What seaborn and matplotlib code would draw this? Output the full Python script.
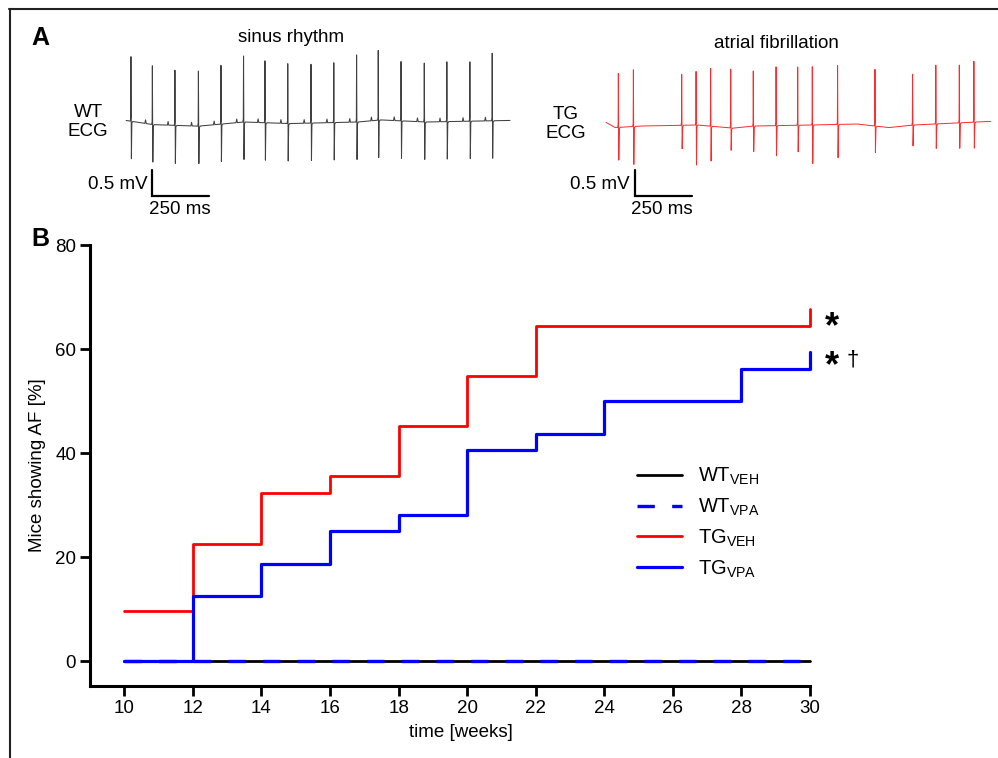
import numpy as np
import pandas as pd
import matplotlib
matplotlib.use("Agg")
import matplotlib.pyplot as plt
from matplotlib.lines import Line2D
import seaborn as sns

# ---------------- data ----------------
# Panel B: cumulative incidence of AF (%)
weeks_wt = [10, 30]
af_wt_veh = [0.0, 0.0]
af_wt_vpa = [0.0, 0.0]
weeks_tg_veh = [10, 12, 14, 16, 18, 20, 22, 30]
af_tg_veh = [9.7, 22.6, 32.3, 35.5, 45.2, 54.8, 64.5, 67.7]
weeks_tg_vpa = [10, 12, 14, 16, 18, 20, 22, 24, 28, 30]
af_tg_vpa = [0.0, 12.5, 18.75, 25.0, 28.1, 40.6, 43.75, 50.0, 56.25, 59.4]
x_ticks = [10, 12, 14, 16, 18, 20, 22, 24, 26, 28, 30]
y_ticks = [0, 20, 40, 60, 80]

# Panel A: ECG traces (beat times in ms, R / S amplitudes in mV, baseline knots)
sinus_beat_ms = [4, 98, 197, 300, 399, 498, 592, 692, 794, 894, 994, 1089, 1189, 1291, 1390, 1491, 1589]
sinus_r_mv = [1.24, 1.13, 1.06, 1.06, 1.13, 1.27, 1.19, 1.15, 1.13, 1.15, 1.29, 1.34, 1.14, 1.13, 1.15, 1.14, 1.30]
sinus_s_mv = [-0.72, -0.72, -0.73, -0.72, -0.72, -0.72, -0.72, -0.72, -0.72, -0.72, -0.72, -0.72, -0.72, -0.72, -0.72, -0.72, -0.72]
sinus_base_ms = [-17, 100, 300, 500, 700, 1000, 1100, 1300, 1667]
sinus_base_mv = [0.03, -0.05, -0.08, 0.0, -0.03, 0.0, 0.04, 0.0, 0.03]
sinus_p_mv = 0.07

af_beat_ms = [54, 120, 332, 395, 459, 547, 646, 746, 841, 905, 1016, 1180, 1345, 1447, 1550, 1614]
af_r_mv = [1.04, 1.09, 0.98, 1.03, 1.11, 1.13, 1.06, 1.13, 1.12, 1.12, 1.13, 1.09, 0.98, 1.13, 1.11, 1.17]
af_s_mv = [-0.63, -0.73, -0.45, -0.77, -0.67, -0.43, -0.49, -0.58, -0.51, -0.74, -0.64, -0.51, -0.40, -0.47, -0.49, -0.50]
af_base_ms = [0, 40, 150, 400, 557, 650, 900, 1100, 1240, 1350, 1687]
af_base_mv = [0.05, -0.05, -0.02, 0.0, -0.06, -0.02, 0.0, 0.02, -0.05, 0.0, 0.07]

# ---------------- style ----------------
sns.set_style("ticks")
plt.rcParams["font.family"] = ["Liberation Sans", "DejaVu Sans"]
plt.rcParams["mathtext.fontset"] = "custom"
plt.rcParams["mathtext.rm"] = "Liberation Sans"
plt.rcParams["mathtext.default"] = "regular"
plt.rcParams["text.color"] = "black"
plt.rcParams["axes.labelcolor"] = "black"

W, H = 998, 758
fig = plt.figure(figsize=(W / 100, H / 100), dpi=100)


def px_axes(l, t, r, b):
    return fig.add_axes([l / W, 1 - b / H, (r - l) / W, (b - t) / H])


def ecg_trace(beats, r, s, base_t, base_v, p_amp):
    t = np.arange(base_t[0], base_t[-1] + 0.25, 0.5)
    v = np.interp(t, base_t, base_v)
    for tb, rv, sv in zip(beats, r, s):
        offs = np.array([-33, -30, -27, -3, -1, 0, 2, 4, 8])
        vals = np.array([0, p_amp, 0, 0, 0.06, rv, sv, -0.03, 0])
        v = v + np.interp(t, tb + offs, vals, left=0, right=0)
    return t, v


FS = 13.5

# ----- Panel A: sinus rhythm -----
axs = px_axes(120, 40, 515, 225)
t1, v1 = ecg_trace(sinus_beat_ms, sinus_r_mv, sinus_s_mv, sinus_base_ms, sinus_base_mv, sinus_p_mv)
sns.lineplot(x=t1, y=v1, ax=axs, estimator=None, sort=False, color="#404040", lw=0.75)
axs.set_xlim(-44, 1689)
axs.set_ylim((122 - 225) / 52, (122 - 40) / 52)
axs.axis("off")
axs.plot([98, 98, 348], [-0.917, -1.417, -1.417], color="black", lw=1.6, clip_on=False,
         solid_joinstyle="miter")
axs.text(76, -1.2, "0.5 mV", ha="right", va="center", fontsize=FS)
axs.text(219, -1.68, "250 ms", ha="center", va="center", fontsize=FS)

# ----- Panel A: atrial fibrillation -----
axa = px_axes(596, 40, 996, 225)
t2, v2 = ecg_trace(af_beat_ms, af_r_mv, af_s_mv, af_base_ms, af_base_mv, 0.0)
sns.lineplot(x=t2, y=v2, ax=axa, estimator=None, sort=False, color="#ff2a2a", lw=0.7)
axa.set_xlim(-44, 1711)
axa.set_ylim((125 - 225) / 52, (125 - 40) / 52)
axa.axis("off")
axa.plot([127, 127, 377], [-0.86, -1.36, -1.36], color="black", lw=1.6, clip_on=False,
         solid_joinstyle="miter")
axa.text(105, -1.14, "0.5 mV", ha="right", va="center", fontsize=FS)
axa.text(246, -1.63, "250 ms", ha="center", va="center", fontsize=FS)

fig.text(291 / W, 1 - 37 / H, "sinus rhythm", ha="center", va="center", fontsize=FS)
fig.text(776 / W, 1 - 43 / H, "atrial fibrillation", ha="center", va="center", fontsize=FS)
fig.text(88 / W, 1 - 122 / H, "WT\nECG", ha="center", va="center", fontsize=FS,
         multialignment="center", linespacing=1.15)
fig.text(566 / W, 1 - 124 / H, "TG\nECG", ha="center", va="center", fontsize=FS,
         multialignment="center", linespacing=1.15)
fig.text(40 / W, 1 - 38 / H, "A", ha="center", va="center", fontsize=18, fontweight="bold")
fig.text(40 / W, 1 - 239 / H, "B", ha="center", va="center", fontsize=18, fontweight="bold")

# ----- Panel B -----
ax = px_axes(90, 245, 810, 686)
sns.lineplot(x=weeks_wt, y=af_wt_veh, ax=ax, color="black", lw=2.0,
             drawstyle="steps-post", label=r"WT$_{VEH}$", clip_on=False)
sns.lineplot(x=weeks_wt, y=af_wt_vpa, ax=ax, color="#0000ff", lw=2.4,
             drawstyle="steps-post", linestyle=(0, (5.2, 5.2)), label=r"WT$_{VPA}$",
             clip_on=False)
sns.lineplot(x=weeks_tg_veh, y=af_tg_veh, ax=ax, color="#ff0000", lw=2.0,
             drawstyle="steps-post", label=r"TG$_{VEH}$", clip_on=False)
sns.lineplot(x=weeks_tg_vpa, y=af_tg_vpa, ax=ax, color="#0000ff", lw=2.3,
             drawstyle="steps-post", label=r"TG$_{VPA}$", clip_on=False)

ax.set_xlim(9.0, 30)
ax.set_ylim(-4.8, 80)
ax.set_xticks(x_ticks)
ax.set_yticks(y_ticks)
ax.tick_params(axis="both", direction="out", length=7, width=2, labelsize=FS, pad=3,
               color="black", labelcolor="black")
sns.despine(ax=ax)
for sp in ["left", "bottom"]:
    ax.spines[sp].set_linewidth(2.2)
    ax.spines[sp].set_color("black")
ax.set_xlabel("time [weeks]", fontsize=FS)
ax.set_ylabel("Mice showing AF [%]", fontsize=FS)
ax.xaxis.set_label_coords((461 - 90) / 720, -(724 - 686) / 441)
ax.yaxis.set_label_coords(-(90 - 46) / 720, 0.5)

leg = ax.legend(loc="upper left", bbox_to_anchor=(637 / W, 1 - 466 / H),
                bbox_transform=fig.transFigure, frameon=False, fontsize=14.5,
                handlelength=2.25, handletextpad=0.8, labelspacing=0.47,
                borderpad=0, borderaxespad=0)

# significance markers
ax.annotate("*", xy=(weeks_tg_veh[-1], af_tg_veh[-1]), xytext=(16, -20.5),
            textcoords="offset points", ha="center", va="baseline",
            fontsize=26, fontweight="bold", color="black")
ax.annotate("*", xy=(weeks_tg_vpa[-1], af_tg_vpa[-1]), xytext=(16, -17.5),
            textcoords="offset points", ha="center", va="baseline",
            fontsize=26, fontweight="bold", color="black")
ax.annotate("\u2020", xy=(weeks_tg_vpa[-1], af_tg_vpa[-1]), xytext=(30.5, -9.5),
            textcoords="offset points", ha="center", va="baseline", fontsize=16,
            color="black")

# figure frame (top and left)
fig.add_artist(Line2D([9 / W, 1], [1 - 9 / H, 1 - 9 / H], transform=fig.transFigure,
                      color="#222222", lw=1.5))
fig.add_artist(Line2D([9.5 / W, 9.5 / W], [1 - 9 / H, 0], transform=fig.transFigure,
                      color="#222222", lw=1.5))

fig.savefig("out.png", dpi=100)
